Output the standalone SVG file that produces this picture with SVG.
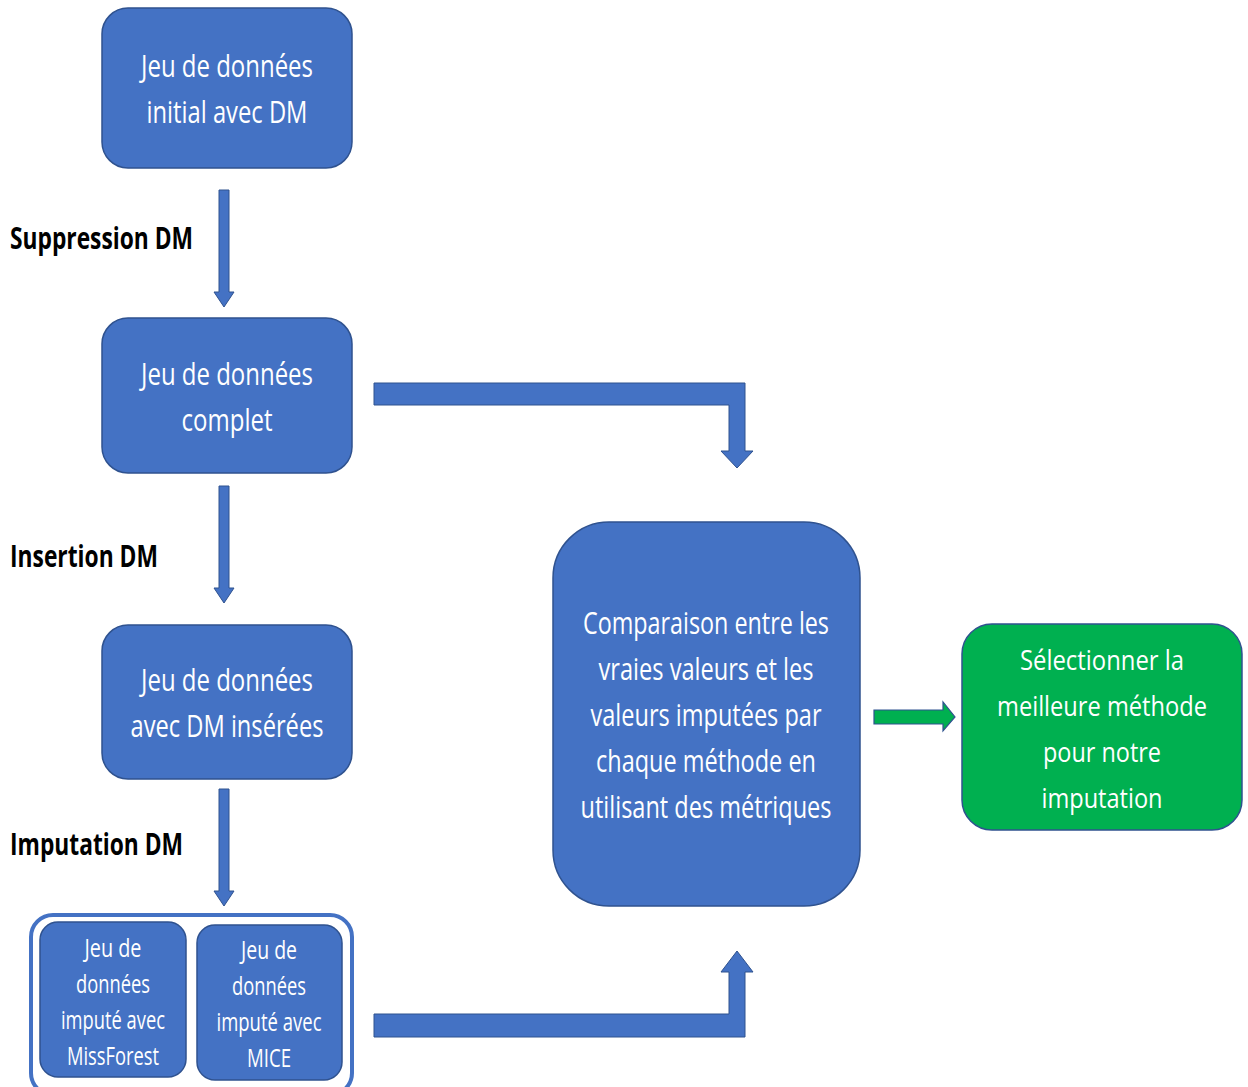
<svg xmlns="http://www.w3.org/2000/svg" width="1248" height="1087" viewBox="0 0 1248 1087">
<style>
.box{fill:#4472C4;stroke:#2F528F;stroke-width:1.5}
.gbox{fill:#00B050;stroke:#2F528F;stroke-width:1.5}
.arr{fill:#4472C4;stroke:#2F528F;stroke-width:1}
.garr{fill:#00B050;stroke:#2F528F;stroke-width:1.2}
.t{font-family:"Open Sans","Liberation Sans",sans-serif;font-size:31px;fill:#fff;text-anchor:middle}
.tg{font-family:"Open Sans","Liberation Sans",sans-serif;font-size:28px;fill:#fff;text-anchor:middle}
.ts{font-family:"Open Sans","Liberation Sans",sans-serif;font-size:26px;fill:#fff;text-anchor:middle}
.lbl{font-family:"Open Sans","Liberation Sans",sans-serif;font-size:30px;font-weight:bold;fill:#000}
</style>
<rect width="1248" height="1087" fill="#fff"/>
<g id="connectors">
<polygon class="arr" points="219,190 229,190 229,292 234,292 224,307 214,292 219,292"/>
<polygon class="arr" points="219,486 229,486 229,588 234,588 224,603 214,588 219,588"/>
<polygon class="arr" points="219,789 229,789 229,891 234,891 224,906 214,891 219,891"/>
<polygon class="arr" points="374,383 745,383 745,451 753,451 737,468 721,451 729,451 729,405 374,405"/>
<polygon class="arr" points="374,1037 745,1037 745,972 753,972 737,951 721,972 729,972 729,1014 374,1014"/>
<polygon class="garr" points="874,710 943,710 943,702 955,717 943,731 943,724 874,724"/>
</g>
<g id="lbl-suppression"><text class="lbl" x="10" y="249" textLength="183" lengthAdjust="spacingAndGlyphs">Suppression DM</text></g>
<g id="lbl-insertion"><text class="lbl" x="10" y="567" textLength="148" lengthAdjust="spacingAndGlyphs">Insertion DM</text></g>
<g id="lbl-imputation"><text class="lbl" x="10" y="855" textLength="173" lengthAdjust="spacingAndGlyphs">Imputation DM</text></g>
<g id="node-initial">
<rect class="box" x="102" y="8" width="250" height="160" rx="26"/>
<text class="t" x="227" y="77" textLength="172" lengthAdjust="spacingAndGlyphs">Jeu de données</text>
<text class="t" x="227" y="123" textLength="161" lengthAdjust="spacingAndGlyphs">initial avec DM</text>
</g>
<g id="node-complet">
<rect class="box" x="102" y="318" width="250" height="155" rx="26"/>
<text class="t" x="227" y="385" textLength="172" lengthAdjust="spacingAndGlyphs">Jeu de données</text>
<text class="t" x="227" y="431" textLength="91" lengthAdjust="spacingAndGlyphs">complet</text>
</g>
<g id="node-inserees">
<rect class="box" x="102" y="625" width="250" height="154" rx="26"/>
<text class="t" x="227" y="691" textLength="172" lengthAdjust="spacingAndGlyphs">Jeu de données</text>
<text class="t" x="227" y="737" textLength="193" lengthAdjust="spacingAndGlyphs">avec DM insérées</text>
</g>
<g id="node-imputes">
<rect x="31" y="915" width="321" height="180" rx="22" fill="#fff" stroke="#4472C4" stroke-width="4"/>
<g id="node-missforest">
<rect class="box" x="40" y="922" width="146" height="155" rx="18"/>
<text class="ts" x="113" y="957" textLength="57" lengthAdjust="spacingAndGlyphs">Jeu de</text>
<text class="ts" x="113" y="993" textLength="74" lengthAdjust="spacingAndGlyphs">données</text>
<text class="ts" x="113" y="1029" textLength="104" lengthAdjust="spacingAndGlyphs">imputé avec</text>
<text class="ts" x="113" y="1065" textLength="92" lengthAdjust="spacingAndGlyphs">MissForest</text>
</g>
<g id="node-mice">
<rect class="box" x="197" y="925" width="145" height="155" rx="18"/>
<text class="ts" x="269" y="959" textLength="56" lengthAdjust="spacingAndGlyphs">Jeu de</text>
<text class="ts" x="269" y="995" textLength="74" lengthAdjust="spacingAndGlyphs">données</text>
<text class="ts" x="269" y="1031" textLength="105" lengthAdjust="spacingAndGlyphs">imputé avec</text>
<text class="ts" x="269" y="1067" textLength="44" lengthAdjust="spacingAndGlyphs">MICE</text>
</g>
</g>
<g id="node-comparaison">
<rect class="box" x="553" y="522" width="307" height="384" rx="56"/>
<text class="t" x="706" y="634" textLength="246" lengthAdjust="spacingAndGlyphs">Comparaison entre les</text>
<text class="t" x="706" y="680" textLength="215" lengthAdjust="spacingAndGlyphs">vraies valeurs et les</text>
<text class="t" x="706" y="726" textLength="231" lengthAdjust="spacingAndGlyphs">valeurs imputées par</text>
<text class="t" x="706" y="772" textLength="220" lengthAdjust="spacingAndGlyphs">chaque méthode en</text>
<text class="t" x="706" y="818" textLength="251" lengthAdjust="spacingAndGlyphs">utilisant des métriques</text>
</g>
<g id="node-selection">
<rect class="gbox" x="962" y="624" width="280" height="206" rx="30"/>
<text class="tg" x="1102" y="670" textLength="164" lengthAdjust="spacingAndGlyphs">Sélectionner la</text>
<text class="tg" x="1102" y="716" textLength="210" lengthAdjust="spacingAndGlyphs">meilleure méthode</text>
<text class="tg" x="1102" y="762" textLength="118" lengthAdjust="spacingAndGlyphs">pour notre</text>
<text class="tg" x="1102" y="808" textLength="121" lengthAdjust="spacingAndGlyphs">imputation</text>
</g>
</svg>
